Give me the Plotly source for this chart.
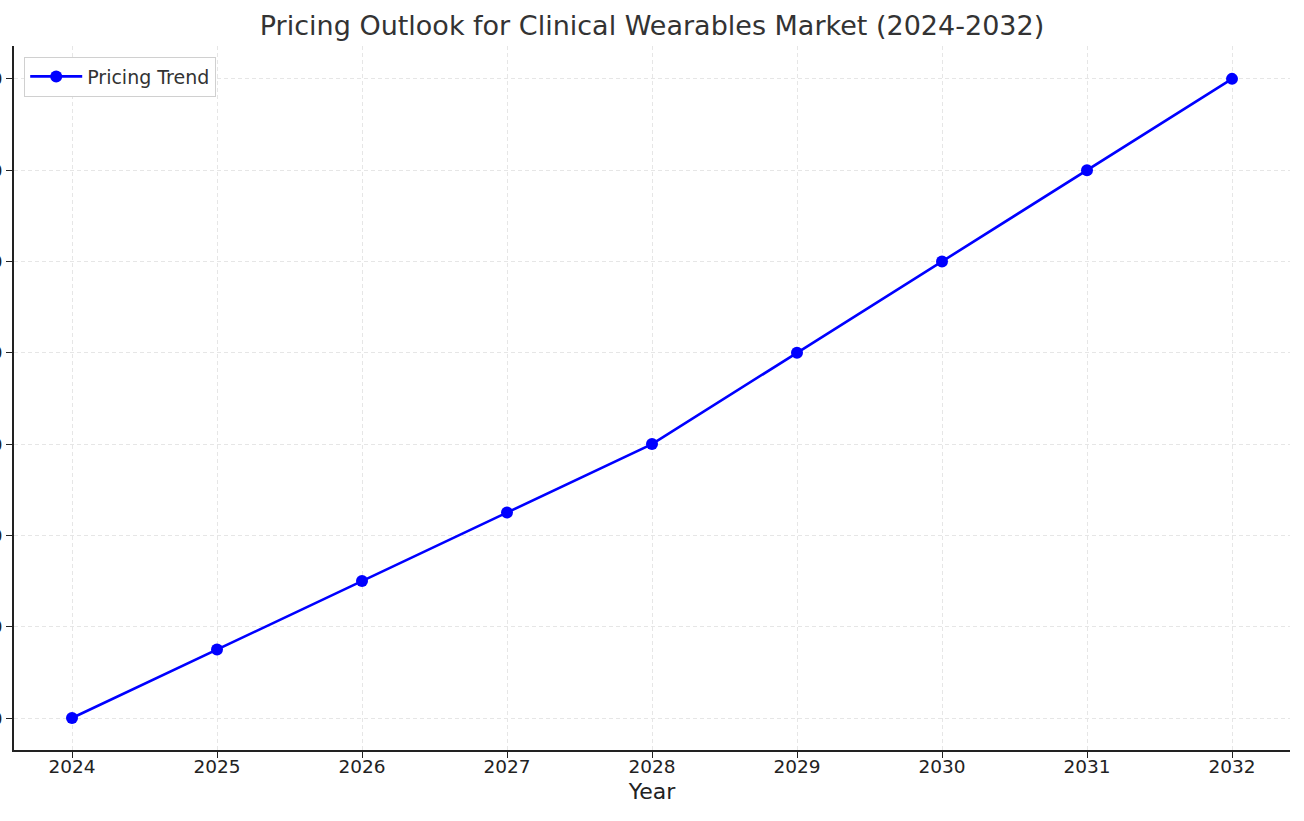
import plotly.graph_objects as go

years = [2024, 2025, 2026, 2027, 2028, 2029, 2030, 2031, 2032]
prices = [100, 175, 250, 325, 400, 500, 600, 700, 800]
y_ticks = [100, 200, 300, 400, 500, 600, 700, 800]

fig = go.Figure()
fig.add_trace(go.Scatter(
    x=years, y=prices, mode="lines+markers", name="Pricing Trend",
    line=dict(color="#0000ff", width=2.6),
    marker=dict(color="#0000ff", size=12),
))

axis_common = dict(
    showline=True, linecolor="#222", linewidth=1.6,
    ticks="outside", ticklen=6, tickcolor="#222", tickwidth=1.3,
    showgrid=True, gridcolor="#e6e6e6", griddash="4px,3px", gridwidth=1,
    zeroline=False, mirror=False,
    tickfont=dict(size=18.5, color="#222"),
)

fig.update_layout(
    width=1304, height=821,
    paper_bgcolor="white", plot_bgcolor="white",
    font=dict(family="DejaVu Sans", color="#222"),
    margin=dict(l=14, r=14, t=46, b=71, autoexpand=False),
    title=dict(text="Pricing Outlook for Clinical Wearables Market (2024-2032)",
               x=0.5, xanchor="center", y=0.969, yanchor="middle",
               font=dict(size=27, color="#333")),
    xaxis=dict(axis_common, range=[2023.6, 2032.4], tickvals=years,
               ticklabelstandoff=-7,
               title=dict(text="Year", font=dict(size=22, color="#222"), standoff=8),
               automargin=False),
    yaxis=dict(axis_common, range=[65, 836], tickvals=y_ticks, automargin=False),
    legend=dict(x=0.008, y=0.985, xanchor="left", yanchor="top",
                bgcolor="white", bordercolor="#d0d0d0", borderwidth=1,
                itemwidth=52,
                font=dict(size=19, color="#333")),
    showlegend=True,
)

fig.write_html("out.html")
